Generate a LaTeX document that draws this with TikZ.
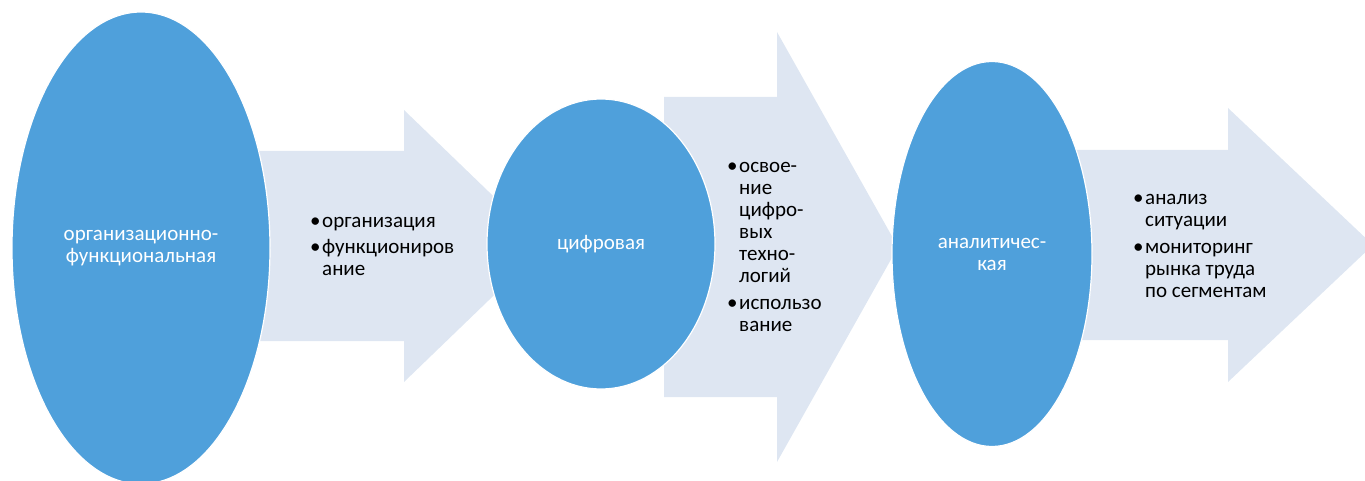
\documentclass[tikz,border=0pt]{standalone}
\usepackage{fontspec}
\setmainfont{Carlito}
\usetikzlibrary{shapes.geometric}
\definecolor{StageBlue}{RGB}{79,160,219}
\definecolor{StageArrowFill}{RGB}{222,230,242}
\newcommand{\StageFont}{\fontsize{21}{22}\selectfont}
\newcommand{\StageBullet}{\makebox[12pt][l]{\textbullet}}
% #1 tip name, #2 body left, #3 head start, #4 tip x, #5 middle y, #6 body half height, #7 head half height
\newcommand{\StageArrow}[7]{
  \coordinate (#1) at (#4,#5);
  \fill[StageArrowFill] (#2,#5-#6) -- (#3,#5-#6) -- (#3,#5-#7) -- (#1)
    -- (#3,#5+#7) -- (#3,#5+#6) -- (#2,#5+#6) -- cycle;
}
\tikzset{
  stage/.style={ellipse, fill=StageBlue, draw=white, line width=1.2pt,
    text=white, align=center, inner sep=0pt, font=\StageFont},
  stagelist/.style={anchor=north west, inner sep=0pt, font=\StageFont}
}
\begin{document}
\begin{tikzpicture}[x=1pt,y=-1pt]
\useasboundingbox (0,0) rectangle (1365,481);

\StageArrow{t1}{200}{404}{545}{246}{95}{136}
\StageArrow{t2}{664}{777}{898}{247}{150}{215}
\StageArrow{t3}{1060}{1228}{1373}{245}{95}{137}

\node[stage, minimum width=258pt, minimum height=472pt] (s1) at (141,248)
  {организационно-\\функциональная};
\node[stage, minimum width=228pt, minimum height=290pt] (s2) at (601,244)
  {цифровая};
\node[stage, minimum width=200pt, minimum height=385pt] (s3) at (992,254)
  {аналитичес-\\кая};

\node[stagelist] (l1) at (310,211.6) {\begin{tabular}{@{}l@{}l@{}}
  \StageBullet & организация\\[4pt]
  \StageBullet & функциониров\\
               & ание
\end{tabular}};
\node[stagelist] (l2) at (727,156.6) {\begin{tabular}{@{}l@{}l@{}}
  \StageBullet & освое-\\
               & ние\\
               & цифро-\\
               & вых\\
               & техно-\\
               & логий\\[5pt]
  \StageBullet & использо\\
               & вание
\end{tabular}};
\node[stagelist] (l3) at (1133,188.6) {\begin{tabular}{@{}l@{}l@{}}
  \StageBullet & анализ\\
               & ситуации\\[5pt]
  \StageBullet & мониторинг\\
               & рынка труда\\
               & по сегментам
\end{tabular}};
\end{tikzpicture}
\end{document}
